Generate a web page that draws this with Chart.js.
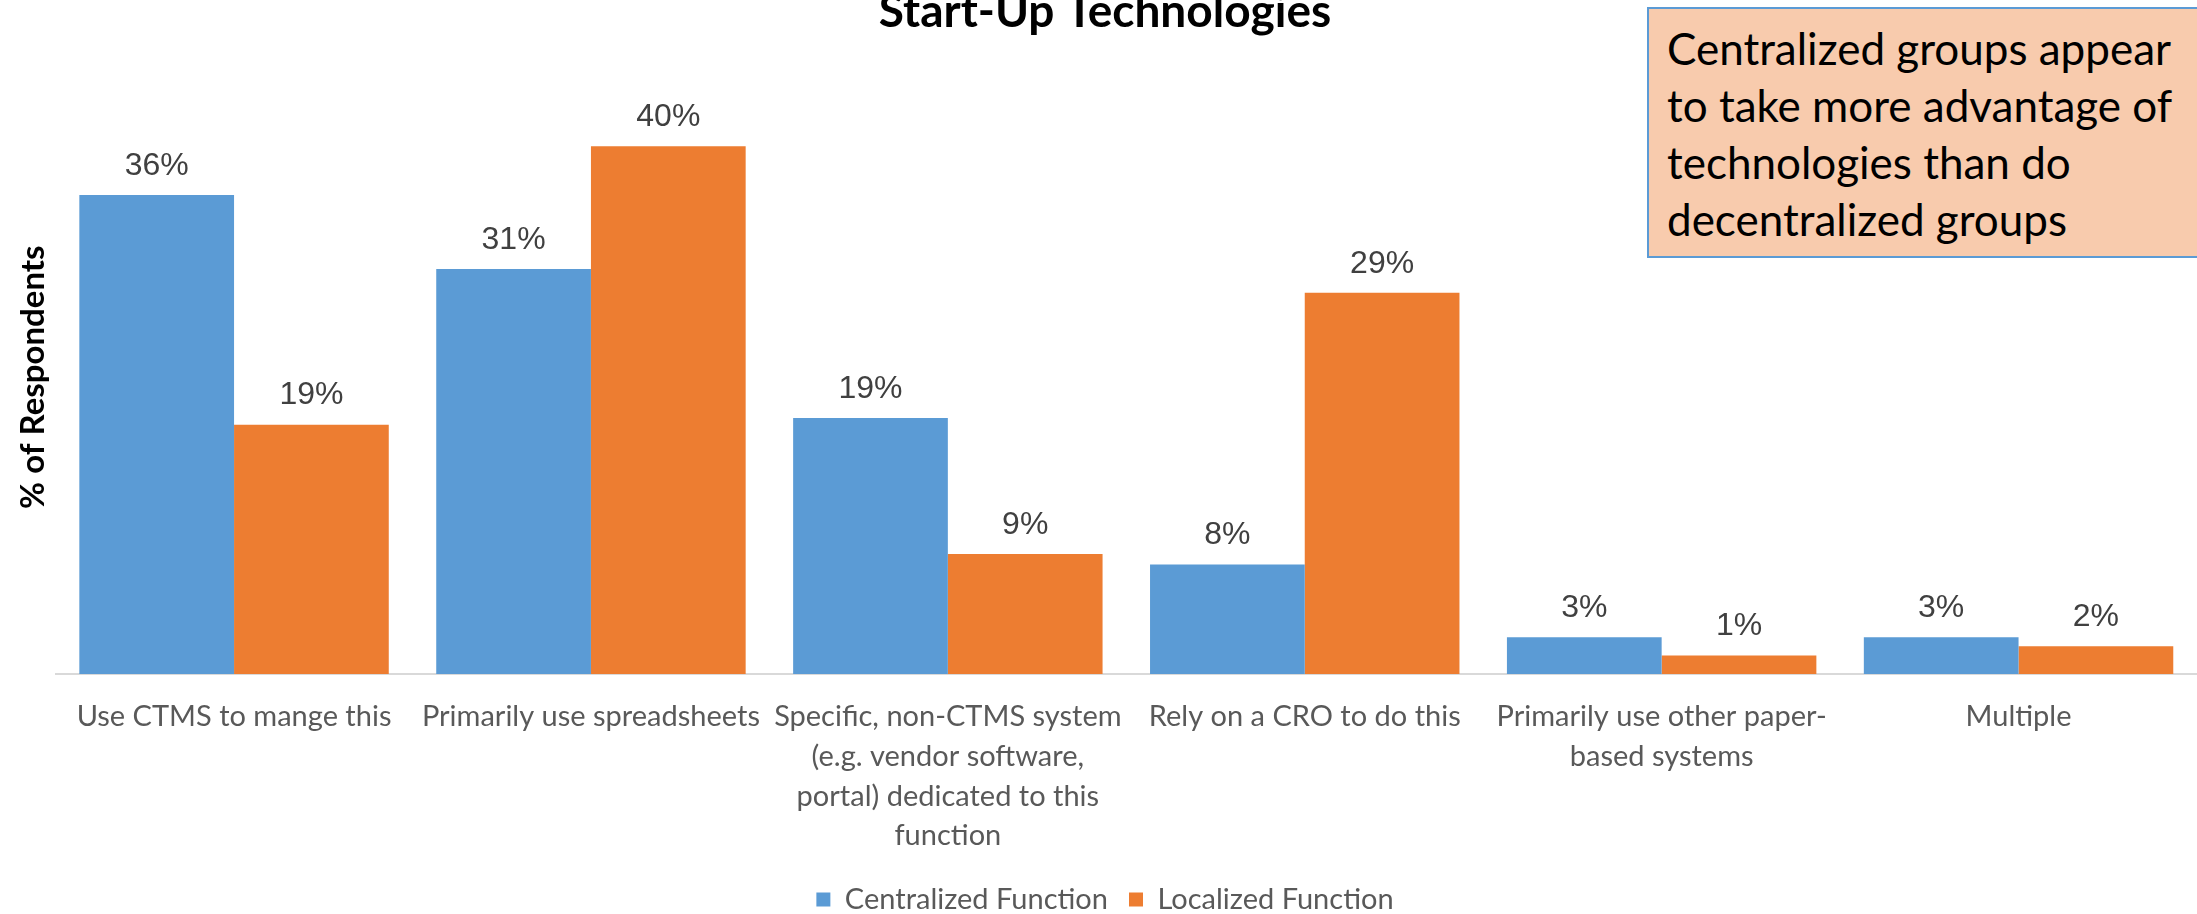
<!DOCTYPE html>
<html>
<head>
<meta charset="utf-8">
<title>Start-Up Technologies</title>
<script src="https://cdn.jsdelivr.net/npm/chart.js@4.4.1/dist/chart.umd.min.js"></script>
<style>
  body { margin: 0; overflow: hidden; background: #fff; }
  #wrap { position: relative; width: 2197px; height: 914px; overflow: hidden; }
  #box { position: absolute; left: 0; top: -16px; width: 2197px; height: 940px; }
  #note {
    position: absolute; left: 1647px; top: 7px; width: 620px; height: 251px;
    background: #f8cbad; border: 2px solid #5b9bd5; box-sizing: border-box;
    font: 44px Lato, sans-serif; line-height: 57px; color: #000;
    padding: 11px 0 0 18px; white-space: nowrap;
  }
</style>
</head>
<body>
<div id="wrap">
  <div id="box"><canvas id="chart"></canvas></div>
  <div id="note">Centralized groups appear<br>to take more advantage of<br>technologies than do<br>decentralized groups</div>
</div>
<script>
/* Categories (multi-line labels) */
const categories = [
  ["Use CTMS to mange this"],
  ["Primarily use spreadsheets"],
  ["Specific, non-CTMS system", "(e.g. vendor software,", "portal) dedicated to this", "function"],
  ["Rely on a CRO to do this"],
  ["Primarily use other paper-", "based systems"],
  ["Multiple"]
];

/* % of respondents */
const centralized = [36.3, 30.7, 19.4, 8.3, 2.8, 2.8];
const localized = [18.9, 40.0, 9.1, 28.9, 1.4, 2.1];

const seriesNames = ["Centralized Function", "Localized Function"];

/* Value labels above the bars */
const barLabels = {
  id: "barLabels",
  afterDatasetsDraw(chart) {
    const ctx = chart.ctx;
    ctx.save();
    ctx.font = '32px "Liberation Sans", Arial, sans-serif';
    ctx.fillStyle = "#404040";
    ctx.textAlign = "center";
    ctx.textBaseline = "middle";
    chart.data.datasets.forEach((ds, i) => {
      chart.getDatasetMeta(i).data.forEach((bar, j) => {
        ctx.fillText(Math.round(ds.data[j]) + "%", bar.x, bar.y - 29);
      });
    });
    ctx.restore();
  }
};

new Chart(document.getElementById("chart"), {
  type: "bar",
  data: {
    labels: categories,
    datasets: [
      {
        label: seriesNames[0],
        data: centralized,
        backgroundColor: "#5b9bd5",
        barPercentage: 1,
        categoryPercentage: 0.867
      },
      {
        label: seriesNames[1],
        data: localized,
        backgroundColor: "#ed7d31",
        barPercentage: 1,
        categoryPercentage: 0.867
      }
    ]
  },
  options: {
    responsive: true,
    maintainAspectRatio: false,
    animation: false,
    layout: { padding: { left: 13, right: 0, top: 0, bottom: 0 } },
    plugins: {
      title: {
        display: true,
        text: "Start-Up Technologies",
        color: "#000",
        font: { family: "Lato", size: 46, weight: "bold" },
        padding: { top: 1, bottom: 40 }
      },
      legend: {
        position: "bottom",
        labels: {
          boxWidth: 14,
          boxHeight: 14,
          color: "#595959",
          font: { family: "Lato", size: 29 },
          padding: 21
        }
      },
      tooltip: { enabled: false }
    },
    scales: {
      x: {
        grid: { display: false, drawTicks: false },
        border: { display: true, color: "#d9d9d9", width: 2 },
        ticks: {
          color: "#595959",
          font: { family: "Lato", size: 29, lineHeight: 1.37 },
          padding: 23,
          maxRotation: 0,
          autoSkip: false
        },
        afterFit(scale) {
          scale.height -= 15;
        }
      },
      y: {
        min: 0,
        max: 45,
        grid: { display: false, drawTicks: false },
        border: { display: false },
        ticks: { display: false },
        title: {
          display: true,
          text: "% of Respondents",
          color: "#000",
          font: { family: "Lato", size: 33, weight: "bold" },
          padding: { top: 1, bottom: 2 }
        }
      }
    }
  },
  plugins: [barLabels]
});
</script>
</body>
</html>
